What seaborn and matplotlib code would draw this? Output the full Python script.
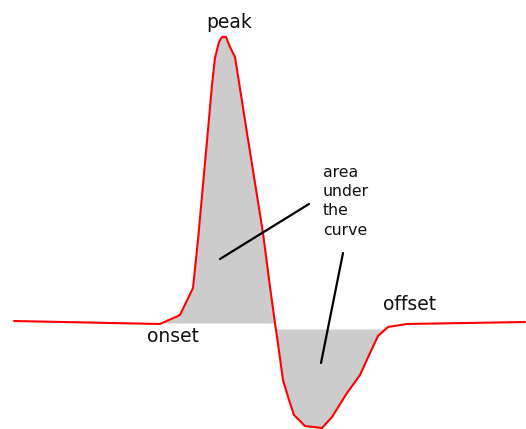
import numpy as np
import pandas as pd
import matplotlib
matplotlib.use("Agg")
import matplotlib.pyplot as plt
import seaborn as sns

# Waveform samples: time and amplitude (baseline = 0)
time = [14, 160, 180, 193, 198, 203, 208, 212, 215, 219, 222, 226, 230, 235,
        247, 255, 263, 270, 275, 279, 283, 289, 294, 305, 322, 332,
        347, 360, 370, 378, 388, 407, 525]
amplitude = [2, -1, 8, 35, 83, 138, 193, 238, 265, 281, 286, 286, 276, 266,
             190, 140, 90, 36, 0, -28, -57, -77, -92, -103, -105,
             -94, -70, -52, -30, -13, -4, -1, 1]

onset_time = 160
crossing_time = 275
offset_time = 388
negative_baseline = -6

labels = {"peak": (229, 301), "onset": (173, -13), "offset": (410, 18)}
area_label = "area\nunder\nthe\ncurve"

sns.set_theme(style="white")
plt.rcParams["font.family"] = ["DejaVu Sans"]

df = pd.DataFrame({"time": time, "amplitude": amplitude})

fig = plt.figure(figsize=(5.26, 4.29), dpi=100)
ax = fig.add_axes([0, 0, 1, 1])

t = np.array(time, dtype=float)
a = np.array(amplitude, dtype=float)

# shaded area above the baseline (onset to zero crossing)
pos = (t >= onset_time) & (t <= crossing_time)
ax.fill_between(t, a, 0, where=pos & (a >= 0), interpolate=True,
                color="#cccccc", linewidth=0)
# shaded area below the baseline (zero crossing to offset)
neg = (t >= crossing_time) & (t <= offset_time)
ax.fill_between(t, a, negative_baseline, where=neg & (a <= negative_baseline),
                interpolate=True, color="#cccccc", linewidth=0)

sns.lineplot(data=df, x="time", y="amplitude", ax=ax, color="red",
             linewidth=1.5, sort=False, estimator=None)

# pointer lines for the area label
ax.plot([220, 309], [64, 119], color="black", lw=1.6)
ax.plot([343, 321], [70, -40], color="black", lw=1.6)

for text, (x, y) in labels.items():
    ax.text(x, y, text, ha="center", va="center", fontsize=13.5, color="#111111")
ax.text(323, 158, area_label, ha="left", va="top", fontsize=11.3,
        color="#111111", linespacing=1.35)

ax.set_xlim(0, 526)
ax.set_ylim(323 - 429, 323)
ax.set_axis_off()

fig.savefig("out.png", dpi=100)
